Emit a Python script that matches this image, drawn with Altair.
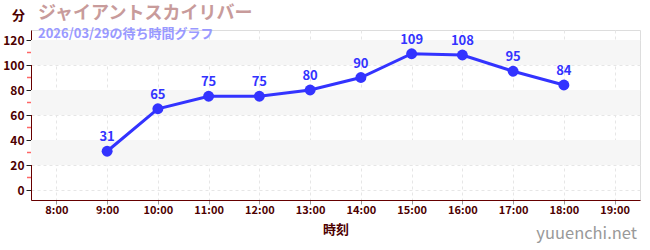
import altair as alt
import pandas as pd

hours = [9, 10, 11, 12, 13, 14, 15, 16, 17, 18]
waits = [31, 65, 75, 75, 80, 90, 109, 108, 95, 84]
x_ticks = [8, 9, 10, 11, 12, 13, 14, 15, 16, 17, 18, 19]
y_ticks = [0, 20, 40, 60, 80, 100, 120]
minor_ticks = [10, 30, 50, 70, 90, 110]
band_lo = [20, 60, 100]
band_hi = [40, 80, 120]

title_text = "ジャイアントスカイリバー"
subtitle_text = "2026/03/29の待ち時間グラフ"
y_title = "分"
x_title = "時刻"
watermark = "yuuenchi.net"

W, H = 609, 170
FONT = "Noto Sans CJK JP"

df = pd.DataFrame({"h": hours, "w": waits})
bands = pd.DataFrame({"lo": band_lo, "hi": band_hi})
minor = pd.DataFrame({"m": minor_ticks})

xs = alt.Scale(domain=[7.5, 19.5], nice=False, zero=False)
ys = alt.Scale(domain=[-8, 128], nice=False, zero=False)

xaxis = alt.Axis(values=x_ticks, labelExpr="datum.value + ':00'", title=x_title,
                 grid=True, gridDash=[3, 3], gridColor="#e6e6e6",
                 domainColor="#660000", tickColor="#999999", tickSize=4,
                 labelColor="#4d0000", labelFont=FONT, labelFontSize=11,
                 labelFontWeight="bold", labelOverlap=False,
                 titleColor="#4d0000", titleFont=FONT, titleFontSize=13,
                 titleFontWeight="bold", titlePadding=8, labelPadding=0)
yaxis = alt.Axis(values=y_ticks, title=y_title, titleAngle=0, titleX=-13, titleY=-8,
                 titleAlign="center", titleBaseline="bottom",
                 grid=True, gridDash=[3, 3], gridColor="#e6e6e6",
                 domainColor="#660000", tickColor="#222222", tickSize=5,
                 labelColor="#4d0000", labelFont=FONT, labelFontSize=12,
                 labelFontWeight="bold", labelOverlap=False,
                 titleColor="#4d0000", titleFont=FONT, titleFontSize=13,
                 titleFontWeight="bold", labelPadding=2)

band_layer = alt.Chart(bands).mark_rect(color="#f6f6f6").encode(
    y=alt.Y("lo:Q", scale=ys, axis=yaxis),
    y2="hi:Q",
    x=alt.value(0), x2=alt.value(W),
)

minor_layer = alt.Chart(minor).mark_rule(color="#ff6666", strokeWidth=1.5).encode(
    y=alt.Y("m:Q", scale=ys, axis=yaxis),
    x=alt.value(-4), x2=alt.value(0),
)

base = alt.Chart(df).encode(
    x=alt.X("h:Q", scale=xs, axis=xaxis),
    y=alt.Y("w:Q", scale=ys, axis=yaxis),
)
line = base.mark_line(color="#3333ff", strokeWidth=3)
pts = base.mark_circle(color="#3333ff", size=120, opacity=1)
labels = base.mark_text(color="#3333ff", dy=-14, fontSize=13, fontWeight="bold", font=FONT).encode(
    text="w:Q")

wm = alt.Chart(pd.DataFrame({"t": [watermark]})).mark_text(
    color="#999999", fontSize=16.5, font=FONT, align="right", baseline="middle"
).encode(text="t:N", x=alt.value(W - 3), y=alt.value(H + 34))

chart = alt.layer(band_layer, minor_layer, line, pts, labels, wm).properties(
    width=W, height=H,
    title=alt.TitleParams(
        text=title_text, subtitle=subtitle_text, anchor="start", dx=7, offset=-32,
        color="#c89b9b", font=FONT, fontSize=18, fontWeight="bold",
        subtitleColor="#9999ff", subtitleFont=FONT, subtitleFontSize=13,
        subtitleFontWeight="bold", subtitlePadding=5, frame="group",
    ),
    autosize=alt.AutoSizeParams(type="none"),
    padding={"left": 31, "top": 30, "right": 10, "bottom": 50},
).configure_view(stroke=None).configure(background="white")

chart.save("out.html", embed_options={"renderer": "svg", "actions": False})
